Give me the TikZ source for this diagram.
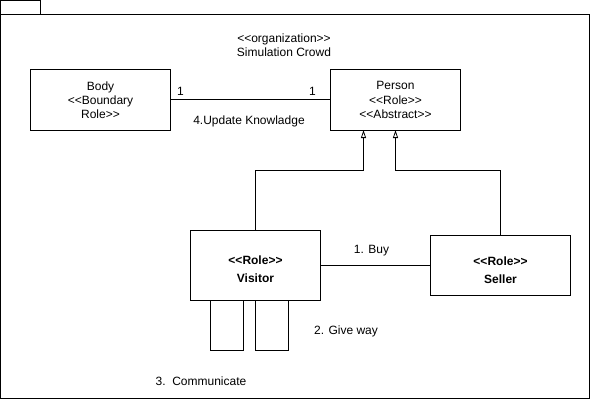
\documentclass[tikz,border=0pt]{standalone}
\usepackage{fontspec}
\setmainfont{Liberation Sans}[Ligatures=TeXOff]
\usetikzlibrary{arrows.meta}
\begin{document}
\begin{tikzpicture}[x=1pt,y=-1pt,
  line width=1pt,
  every node/.style={font=\fontsize{12}{14.2}\selectfont, inner sep=0pt},
  box/.style={draw, line width=1pt, align=center, minimum width=130pt, minimum height=60pt},
  roletext/.style={align=center, font=\bfseries\fontsize{12}{18.4}\selectfont},
  lbl/.style={anchor=center},
  gen/.style={-{Triangle[open,length=8pt,width=5pt,line width=0.8pt]}}
]
\useasboundingbox (0,0) rectangle (591,401);
% package frame
\draw (0.5,14.5) -- (0.5,0.5) -- (40.5,0.5) -- (40.5,14.5);
\draw (0.5,14.5) rectangle (589.5,398.5);
\node[lbl, align=center] (org) at (284,45) {<<organization>>\\Simulation Crowd};
% boxes
\node[box, minimum width=140pt] (body) at (100.5,100) {Body\\<<Boundary\\Role>>};
\node[box] (person) at (395.5,100) {Person\\<<Role>>\\<<Abstract>>};
\node[box, minimum height=70pt] (visitor) at (255.5,265) {};
\node[roletext] (visitortext) at ([yshift=-4pt]visitor.center) {<<Role>>\\Visitor};
\node[box, minimum width=140pt] (seller) at (500.5,265) {};
\node[roletext] (sellertext) at ([yshift=-5pt]seller.center) {<<Role>>\\Seller};
% association Body - Person
\draw (body.east) -- (person.west);
\node[lbl] (m1) at (180.5,91.5) {1};
\node[lbl] (m2) at (312.5,91.5) {1};
\node[lbl] (upd) at (249,121.5) {4.Update Knowladge};
% generalisations
\coordinate (pa) at (363.5,130);
\coordinate (pb) at (395.5,130);
\draw[gen] (visitor.north) |- (363.5,170.5) -- (pa);
\draw[gen] (seller.north) |- (395.5,170.5) -- (pb);
% buy
\draw (visitor.east) -- (seller.west);
\node[lbl] (buy) at (371.5,251) {1. Buy};
% self loops
\coordinate (l1a) at (210.5,300);
\coordinate (l1b) at (243.5,300);
\coordinate (l2a) at (255.5,300);
\coordinate (l2b) at (288.5,300);
\draw (l1a) -- (210.5,350) -- (243.5,350) -- (l1b);
\draw (l2a) -- (255.5,350) -- (288.5,350) -- (l2b);
\node[lbl] (give) at (346,331) {2. Give way};
\node[lbl] (comm) at (201,381) {3.\ \ Communicate};
\end{tikzpicture}
\end{document}
